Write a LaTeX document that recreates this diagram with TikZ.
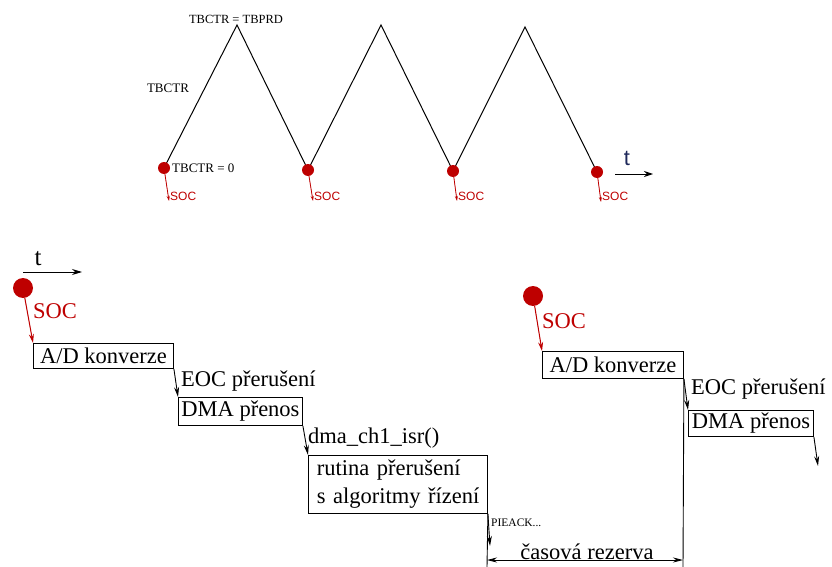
\documentclass[tikz,border=0pt]{standalone}
\usepackage{fontspec}
\setmainfont{LiberationSerif}[Extension=.ttf,UprightFont=*-Regular,BoldFont=*-Bold,ItalicFont=*-Italic]
\newfontfamily\sansf{Liberation Sans}
\usetikzlibrary{arrows.meta}
\definecolor{socred}{RGB}{190,0,0}
\definecolor{tnavy}{RGB}{30,40,90}
\newcommand\myBig{\rmfamily\fontsize{22.5}{27}\selectfont}
\newcommand\myMid{\rmfamily\fontsize{13}{15}\selectfont}
\newcommand\myTiny{\rmfamily\fontsize{11.5}{13}\selectfont}
\begin{document}
\begin{tikzpicture}[x=1pt,y=-1pt,
  box/.style={draw,line width=0.9pt,inner sep=0pt,anchor=north west,font=\myBig},
  lbl/.style={inner sep=0pt,font=\myBig},
  bigdot/.style={circle,fill=socred,inner sep=0pt,minimum size=20pt},
  smalldot/.style={circle,fill=socred,inner sep=0pt,minimum size=12pt},
  bigarr/.style={line width=0.9pt,-{Stealth[length=10pt,width=5pt]}},
  redarr/.style={draw=socred,line width=1pt,-{Stealth[length=9pt,width=5pt]},fill=socred},
  smallred/.style={draw=socred,line width=0.8pt,-{Stealth[length=5pt,width=3pt]},fill=socred},
  toplbl/.style={inner sep=0pt,font=\myMid},
  soclbl/.style={inner sep=0pt,text=socred,font=\sansf\fontsize{12}{14}\selectfont,anchor=west}]
\useasboundingbox (0,0) rectangle (832,567);

% ---------- top triangle wave ----------
\coordinate (v1) at (164,168);
\coordinate (p1) at (237,25);
\coordinate (v2) at (308,170);
\coordinate (p2) at (381,25);
\coordinate (v3) at (453,171);
\coordinate (p3) at (525,27);
\coordinate (v4) at (597,172);
\draw[line width=1pt] (v1) -- (p1) -- (v2) -- (p2) -- (v3) -- (p3) -- (v4);
\node[smalldot] (d1) at (v1) {};
\node[smalldot] (d2) at (v2) {};
\node[smalldot] (d3) at (v3) {};
\node[smalldot] (d4) at (v4) {};
\coordinate (s1) at (169,201);
\coordinate (s2) at (313,201);
\coordinate (s3) at (457,201);
\coordinate (s4) at (601,202);
\draw[smallred] (d1) -- (s1);
\draw[smallred] (d2) -- (s2);
\draw[smallred] (d3) -- (s3);
\draw[smallred] (d4) -- (s4);
\node[soclbl] (sl1) at (170,196) {SOC};
\node[soclbl] (sl2) at (314,196) {SOC};
\node[soclbl] (sl3) at (458,196) {SOC};
\node[soclbl] (sl4) at (602,196) {SOC};
\node[toplbl,font=\rmfamily\fontsize{12.5}{14}\selectfont] (tprd) at (236,19) {TBCTR = TBPRD};
\node[toplbl] (tctr) at (168,88) {TBCTR};
\node[toplbl,anchor=west] (tzero) at (172,168) {TBCTR = 0};
\node[inner sep=0pt,text=tnavy,font=\sansf\fontsize{22}{24}\selectfont] (ttop) at (627,158) {t};
\coordinate (ta1) at (615,174);
\coordinate (ta2) at (653,174);
\draw[line width=1pt,-{Stealth[length=9pt,width=6pt]}] (ta1) -- (ta2);

% ---------- bottom sequence ----------
\node[inner sep=0pt,font=\rmfamily\fontsize{25}{28}\selectfont] (tb) at (38,259) {t};
\coordinate (tb1) at (23,272);
\coordinate (tb2) at (82,272);
\draw[line width=0.9pt,-{Stealth[length=10pt,width=6pt]}] (tb1) -- (tb2);

\node[bigdot] (dot1) at (23,288) {};
\node[lbl,text=socred,anchor=west] (soc1) at (33,311) {SOC};
\node[box,minimum width=140pt,minimum height=25pt] (ad1) at (33,343) {A/D konverze};
\draw[redarr] (dot1) -- (ad1.north west);
\node[lbl,anchor=west] (eoc1) at (181,381) {EOC přerušení};
\node[box,minimum width=124pt,minimum height=28pt] (dma1) at (178,397) {DMA přenos};
\draw[bigarr] (ad1.south east) -- (dma1.north west);
\node[lbl,anchor=west] (isr) at (308,438) {dma\_ch1\_isr()};
\node[box,minimum width=179pt,minimum height=58pt,text width=172pt,align=left,
      font=\rmfamily\fontsize{22.5}{28}\selectfont] (rut) at (308,455)
      {\hspace*{5pt}rutina přerušení\\\hspace*{5pt}s algoritmy řízení};
\draw[bigarr] (dma1.south east) -- (rut.north west);
\node[inner sep=0pt,anchor=west,font=\myTiny] (pie) at (491,523) {PIEACK...};
\coordinate (pa) at (490,546);
\draw[bigarr] (rut.south east) -- (pa);

\node[bigdot] (dot2) at (533,296) {};
\node[lbl,text=socred,anchor=west] (soc2) at (542,321) {SOC};
\node[box,minimum width=141pt,minimum height=27pt] (ad2) at (542,351) {A/D konverze};
\draw[redarr] (dot2) -- (ad2.north west);
\node[lbl,anchor=west] (eoc2) at (691,389) {EOC přerušení};
\node[box,minimum width=125pt,minimum height=26pt] (dma2) at (688,410) {DMA přenos};
\draw[bigarr] (ad2.south east) -- (dma2.north west);
\coordinate (da) at (818,466);
\draw[bigarr] (dma2.south east) -- (da);

% reserve
\coordinate (lb) at (487,567);
\coordinate (rb) at (683,567);
\draw[line width=0.9pt] (rut.south east) -- (lb);
\draw[line width=0.9pt] (ad2.south east) -- (rb);
\coordinate (ca) at (487,560);
\coordinate (cb) at (683,560);
\draw[line width=0.9pt,{Stealth[length=10pt,width=5pt]}-{Stealth[length=10pt,width=5pt]}] (ca) -- (cb);
\node[lbl,anchor=south] (rez) at (587,560) {časová rezerva};
\end{tikzpicture}
\end{document}
